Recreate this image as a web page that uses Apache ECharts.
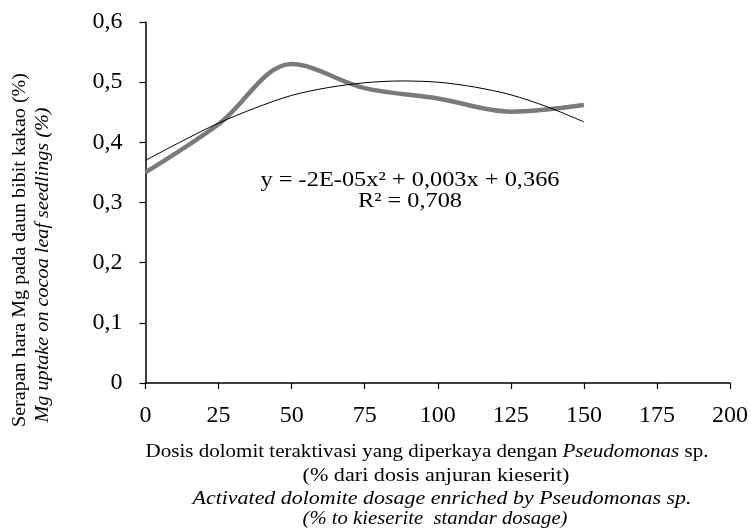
<!DOCTYPE html>
<html>
<head>
<meta charset="utf-8">
<script src="https://cdn.jsdelivr.net/npm/echarts@6/dist/echarts.min.js"></script>
<style>
html,body{margin:0;padding:0;background:#fff;}
#chart{width:751px;height:528px;}
</style>
</head>
<body>
<div id="chart"></div>
<script>
// ---- data ----
var doses = [0, 25, 50, 75, 100, 125, 150];
var mgUptake = [0.35, 0.43, 0.53, 0.49, 0.473, 0.451, 0.462];
// polynomial trend line
var trendDoses = [0, 12.5, 25, 37.5, 50, 62.5, 75, 87.5, 100, 112.5, 125, 137.5, 150];
var trendValues = [0.370, 0.402, 0.432, 0.457, 0.478, 0.491, 0.499, 0.502, 0.500, 0.492, 0.479, 0.459, 0.434];
var xTicks = [0, 25, 50, 75, 100, 125, 150, 175, 200];
var yTicks = [0, 0.1, 0.2, 0.3, 0.4, 0.5, 0.6];
var equationText = 'y = -2E-05x² + 0,003x + 0,366';
var r2Text = 'R² = 0,708';

var FONT = 'Liberation Serif';
var ctx = document.createElement('canvas').getContext('2d');
function measure(parts, size) {
  var w = 0;
  parts.forEach(function (p) {
    ctx.font = (p.italic ? 'italic ' : '') + size + 'px "' + FONT + '"';
    w += ctx.measureText(p.t).width;
  });
  return w;
}
function fitText(parts, size, cx, cy, targetW, rot) {
  var w = measure(parts, size);
  var txt = parts.map(function (p) { return p.italic ? '{i|' + p.t + '}' : '{n|' + p.t + '}'; }).join('');
  return {
    type: 'text',
    x: cx, y: cy,
    rotation: rot || 0,
    scaleX: targetW / w,
    style: {
      text: txt,
      align: 'center',
      verticalAlign: 'middle',
      fill: '#000',
      fontFamily: FONT,
      fontSize: size,
      rich: {
        n: { fontFamily: FONT, fontSize: size, fill: '#000', fontStyle: 'normal' },
        i: { fontFamily: FONT, fontSize: size, fill: '#000', fontStyle: 'italic' }
      }
    }
  };
}

var chart = echarts.init(document.getElementById('chart'));
var option = {
  animation: false,
  backgroundColor: '#fff',
  grid: { left: 145.5, right: 20, top: 22, bottom: 145, containLabel: false },
  xAxis: {
    type: 'value',
    min: xTicks[0], max: xTicks[xTicks.length - 1], interval: 25,
    axisLine: { lineStyle: { color: '#000', width: 1.5 } },
    axisTick: { inside: false, length: 6, lineStyle: { color: '#000', width: 1.2 } },
    splitLine: { show: false },
    axisLabel: { margin: 21, fontFamily: FONT, fontSize: 24, color: '#000' }
  },
  yAxis: {
    type: 'value',
    min: yTicks[0], max: yTicks[yTicks.length - 1], interval: 0.1,
    axisLine: { show: true, lineStyle: { color: '#000', width: 1.5 } },
    axisTick: { show: true, inside: false, length: 6, lineStyle: { color: '#000', width: 1.2 } },
    splitLine: { show: false },
    axisLabel: {
      margin: 23, fontFamily: FONT, fontSize: 24, color: '#000',
      formatter: function (v) { return v === 0 ? '0' : v.toFixed(1).replace('.', ','); }
    }
  },
  series: [
    {
      type: 'line', name: 'trend', z: 3,
      data: trendDoses.map(function (d, i) { return [d, trendValues[i]]; }),
      smooth: 0.3, showSymbol: false,
      lineStyle: { color: '#000', width: 1 }
    },
    {
      type: 'line', name: 'Mg', z: 2,
      data: doses.map(function (d, i) { return [d, mgUptake[i]]; }),
      smooth: 0.34, showSymbol: false,
      lineStyle: { color: '#7a7a7a', width: 4.5 }
    }
  ],
  graphic: [
    fitText([{ t: equationText }], 21, 410, 180, 299),
    fitText([{ t: r2Text }], 21, 410, 201, 104),
    fitText([{ t: 'Dosis dolomit teraktivasi yang diperkaya dengan ' }, { t: 'Pseudomonas', italic: true }, { t: ' sp.' }], 19, 427, 452, 563),
    fitText([{ t: '(% dari dosis anjuran kieserit)' }], 19, 436, 476, 267),
    fitText([{ t: 'Activated dolomite dosage enriched by Pseudomonas sp.', italic: true }], 19, 442, 499, 499),
    fitText([{ t: '(% to kieserite  standar dosage)', italic: true }], 19, 435, 519, 265),
    fitText([{ t: 'Serapan hara Mg pada daun bibit kakao (%)' }], 19, 20, 250, 354, Math.PI / 2),
    fitText([{ t: 'Mg uptake on cocoa leaf seedlings (%)', italic: true }], 19, 43, 265, 315, Math.PI / 2)
  ]
};
chart.setOption(option);
</script>
</body>
</html>
